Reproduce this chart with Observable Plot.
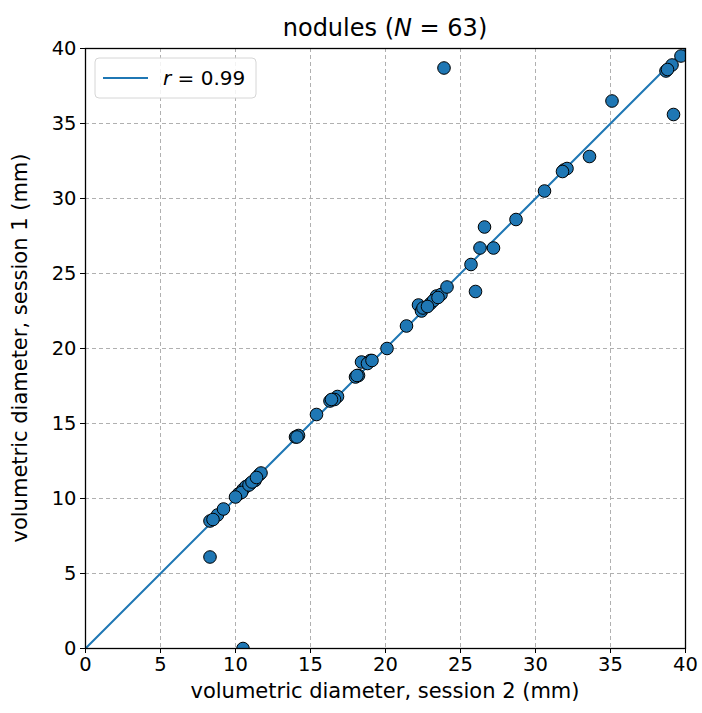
<!DOCTYPE html>
<html>
<head>
<meta charset="utf-8">
<script src="https://cdn.jsdelivr.net/npm/d3@7"></script>
<script src="https://cdn.jsdelivr.net/npm/@observablehq/plot@0.6"></script>
<style>
  html, body { margin: 0; padding: 0; background: #fff; }
  svg { font-family: "DejaVu Sans", sans-serif; }
</style>
</head>
<body>
<div id="chart"></div>
<script>
// session 2 (x) and session 1 (y) volumetric diameters in mm
const session2 = [10.5, 8.3, 8.3, 8.8, 9.2, 10.2, 10.5, 10.7, 11.0, 11.3, 11.6, 11.7,
  14.0, 14.2, 15.4, 16.3, 16.8, 16.6, 18.0, 18.2, 18.4, 19.0, 18.8, 20.1, 21.4,
  22.2, 22.4, 23.0, 23.4, 23.2, 23.7, 24.1, 23.9, 25.7, 26.0, 26.3, 26.6, 27.2,
  28.7, 30.6, 31.9, 32.1, 33.6, 35.1, 38.7, 39.1, 39.2, 39.7,
  10.4, 10.9, 11.1, 11.4, 8.5, 14.1, 16.4, 18.1, 19.1, 22.5, 22.8, 23.5, 31.8, 38.8, 10.0];
const session1 = [0.0, 6.1, 8.5, 8.9, 9.3, 10.3, 10.6, 10.8, 11.0, 11.2, 11.6, 11.7,
  14.1, 14.2, 15.6, 16.5, 16.8, 16.6, 18.1, 18.2, 19.1, 19.2, 19.0, 20.0, 21.5,
  22.9, 22.5, 23.0, 23.5, 23.2, 23.6, 24.1, 38.7, 25.6, 23.8, 26.7, 28.1, 26.7,
  28.6, 30.5, 31.9, 32.0, 32.8, 36.5, 38.5, 38.9, 35.6, 39.5,
  10.4, 10.9, 11.1, 11.4, 8.6, 14.1, 16.6, 18.2, 19.2, 22.7, 22.8, 23.4, 31.8, 38.6, 10.1];
const fitX = [0, 40];
const fitY = [0, 40];
const ticks = [0, 5, 10, 15, 20, 25, 30, 35, 40];
const xLabel = "volumetric diameter, session 2 (mm)";
const yLabel = "volumetric diameter, session 1 (mm)";
const titleText = ["nodules (", "N", " = 63)"];
const legendText = ["r", " = 0.99"];

const points = session2.map((x, i) => ({x, y: session1[i]}));
const fit = fitX.map((x, i) => ({x, y: fitY[i]}));

const W = 702, H = 713;
const mL = 85, mR = 17, mT = 48, mB = 65;
const blue = "#1f77b4";
const FONT = "DejaVu Sans, sans-serif";

const plot = Plot.plot({
  width: W, height: H,
  marginLeft: mL, marginRight: mR, marginTop: mT, marginBottom: mB,
  style: {fontFamily: FONT, fontSize: "19.5px", color: "#000", background: "#fff"},
  x: {domain: [0, 40], ticks: ticks, tickSize: 5, tickPadding: 4, label: null, tickFormat: d3.format("d")},
  y: {domain: [0, 40], ticks: ticks, tickSize: 5, tickPadding: 4, label: null, tickFormat: d3.format("d")},
  marks: [
    Plot.gridX(ticks, {stroke: "#b0b0b0", strokeOpacity: 1, strokeDasharray: "4,3", strokeWidth: 1}),
    Plot.gridY(ticks, {stroke: "#b0b0b0", strokeOpacity: 1, strokeDasharray: "4,3", strokeWidth: 1}),
    Plot.line(fit, {x: "x", y: "y", stroke: blue, strokeWidth: 2, clip: true}),
    Plot.dot(points, {x: "x", y: "y", r: 6.3, fill: blue, stroke: "#000", strokeWidth: 1, clip: true}),
    Plot.frame({stroke: "#000", strokeWidth: 1.3})
  ]
});

document.getElementById("chart").appendChild(plot);

const svg = d3.select(plot);

// Axis labels
svg.append("text")
  .attr("x", mL + (W - mL - mR) / 2).attr("y", 698)
  .attr("text-anchor", "middle").attr("fill", "#000")
  .style("font-size", "21px").style("font-family", FONT)
  .text(xLabel);
svg.append("text")
  .attr("transform", `translate(27,${mT + (H - mT - mB) / 2}) rotate(-90)`)
  .attr("text-anchor", "middle").attr("fill", "#000")
  .style("font-size", "21px").style("font-family", FONT)
  .text(yLabel);

// Title
const t = svg.append("text")
  .attr("x", mL + (W - mL - mR) / 2)
  .attr("y", 36)
  .attr("text-anchor", "middle")
  .attr("fill", "#000")
  .style("font-size", "24px")
  .style("font-family", FONT);
t.append("tspan").text(titleText[0]);
t.append("tspan").attr("font-style", "italic").text(titleText[1]);
t.append("tspan").text(titleText[2]);

// Legend
const lg = svg.append("g");
lg.append("rect")
  .attr("x", 95).attr("y", 58).attr("width", 161).attr("height", 40)
  .attr("rx", 4).attr("fill", "#fff").attr("fill-opacity", 0.85)
  .attr("stroke", "#d6d6d6").attr("stroke-width", 1);
lg.append("line")
  .attr("x1", 103).attr("x2", 148).attr("y1", 78).attr("y2", 78)
  .attr("stroke", blue).attr("stroke-width", 2);
const lt = lg.append("text")
  .attr("x", 163).attr("y", 85)
  .attr("text-anchor", "start")
  .attr("fill", "#000")
  .style("font-size", "20px")
  .style("font-family", FONT);
lt.append("tspan").attr("font-style", "italic").text(legendText[0]);
lt.append("tspan").text(legendText[1]);
</script>
</body>
</html>
